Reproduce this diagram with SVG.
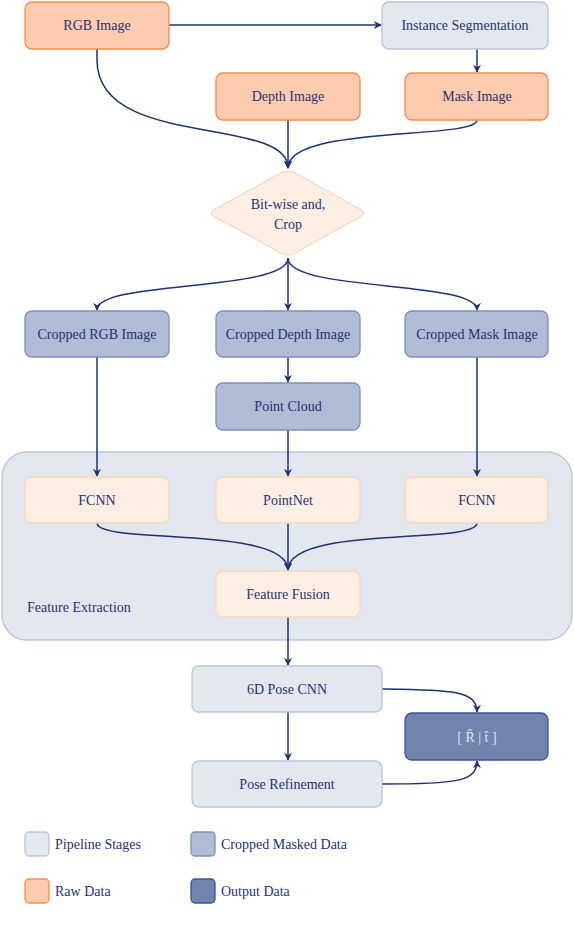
<svg xmlns="http://www.w3.org/2000/svg" width="574" height="928" viewBox="0 0 574 928">
<style>
.raw{fill:#fdcbad;stroke:#f58c4e;stroke-width:1.3}
.stage{fill:#e3e8f0;stroke:#b9c5da;stroke-width:1.3}
.crop{fill:#b0bcd5;stroke:#7b90b9;stroke-width:1.3}
.out{fill:#7184ae;stroke:#3d5593;stroke-width:1.3}
.lite{fill:#fdeee3;stroke:#fbd5bb;stroke-width:1.3}
.cont{fill:#e3e8f0;stroke:#b9c5da;stroke-width:1.3}
.edge{fill:none;stroke:#1b3273;stroke-width:1.5}
</style>
<defs>
<marker id="arr" viewBox="0 0 10 10" refX="9" refY="5" markerWidth="8" markerHeight="8" orient="auto" markerUnits="userSpaceOnUse">
<path d="M0,0 L10,5 L0,10 L3,5 Z" fill="#1b3273"/>
</marker>
</defs>
<rect width="574" height="928" fill="#ffffff"/>
<g id="feature-extraction">
<rect class="cont" x="2" y="452" width="570" height="188" rx="25"/>
<text x="27" y="612" font-family="Liberation Serif" font-size="14" fill="#1f3373">Feature Extraction</text>
</g>
<g id="connectors">
<path class="edge" d="M169,25 L381,25" marker-end="url(#arr)"/>
<path class="edge" d="M477,49 L477,72" marker-end="url(#arr)"/>
<path class="edge" d="M97,49 L97,60 C97,150 288,115 288,168" marker-end="url(#arr)"/>
<path class="edge" d="M288,120 L288,168" marker-end="url(#arr)"/>
<path class="edge" d="M477,120 C477,140 288,125 288,168" marker-end="url(#arr)"/>
<path class="edge" d="M288,258 C288,292 97,280 97,310" marker-end="url(#arr)"/>
<path class="edge" d="M288,258 L288,310" marker-end="url(#arr)"/>
<path class="edge" d="M288,258 C288,292 477,280 477,310" marker-end="url(#arr)"/>
<path class="edge" d="M288,357 L288,382" marker-end="url(#arr)"/>
<path class="edge" d="M97,357 L97,476" marker-end="url(#arr)"/>
<path class="edge" d="M288,430 L288,476" marker-end="url(#arr)"/>
<path class="edge" d="M477,357 L477,476" marker-end="url(#arr)"/>
<path class="edge" d="M97,523 C97,545 288,525 288,570" marker-end="url(#arr)"/>
<path class="edge" d="M288,523 L288,570" marker-end="url(#arr)"/>
<path class="edge" d="M477,523 C477,545 288,525 288,570" marker-end="url(#arr)"/>
<path class="edge" d="M288,617 L288,665" marker-end="url(#arr)"/>
<path class="edge" d="M288,712 L288,760" marker-end="url(#arr)"/>
<path class="edge" d="M382,689 C450,690 477,690 477,712" marker-end="url(#arr)"/>
<path class="edge" d="M382,784 C455,784 477,782 477,761" marker-end="url(#arr)"/>
</g>
<g id="rgb-image"><rect class="raw" x="25" y="2" width="144" height="47" rx="7"/><text x="97" y="30" font-family="Liberation Serif" font-size="14" fill="#1f3373" text-anchor="middle">RGB Image</text></g>
<g id="instance-segmentation"><rect class="stage" x="382" y="2" width="166" height="47" rx="7"/><text x="465" y="30" font-family="Liberation Serif" font-size="14" fill="#1f3373" text-anchor="middle">Instance Segmentation</text></g>
<g id="depth-image"><rect class="raw" x="216" y="73" width="144" height="47" rx="7"/><text x="288" y="101" font-family="Liberation Serif" font-size="14" fill="#1f3373" text-anchor="middle">Depth Image</text></g>
<g id="mask-image"><rect class="raw" x="405" y="73" width="143" height="47" rx="7"/><text x="477" y="101" font-family="Liberation Serif" font-size="14" fill="#1f3373" text-anchor="middle">Mask Image</text></g>
<g id="bitwise-crop">
<path class="lite" d="M281,173 Q288,169 295,173 L360,209 Q367,213 360,217 L295,253 Q288,257 281,253 L215,217 Q208,213 215,209 Z"/>
<text x="288" y="209" font-family="Liberation Serif" font-size="14" fill="#1f3373" text-anchor="middle">Bit-wise and,</text>
<text x="288" y="229" font-family="Liberation Serif" font-size="14" fill="#1f3373" text-anchor="middle">Crop</text>
</g>
<g id="cropped-rgb"><rect class="crop" x="25" y="311" width="144" height="46" rx="7"/><text x="97" y="339" font-family="Liberation Serif" font-size="14" fill="#1f3373" text-anchor="middle">Cropped RGB Image</text></g>
<g id="cropped-depth"><rect class="crop" x="216" y="311" width="144" height="46" rx="7"/><text x="288" y="339" font-family="Liberation Serif" font-size="14" fill="#1f3373" text-anchor="middle">Cropped Depth Image</text></g>
<g id="cropped-mask"><rect class="crop" x="405" y="311" width="143" height="46" rx="7"/><text x="477" y="339" font-family="Liberation Serif" font-size="14" fill="#1f3373" text-anchor="middle">Cropped Mask Image</text></g>
<g id="point-cloud"><rect class="crop" x="216" y="383" width="144" height="47" rx="7"/><text x="288" y="411" font-family="Liberation Serif" font-size="14" fill="#1f3373" text-anchor="middle">Point Cloud</text></g>
<g id="fcnn-1"><rect class="lite" x="25" y="477" width="144" height="46" rx="7"/><text x="97" y="505" font-family="Liberation Serif" font-size="14" fill="#1f3373" text-anchor="middle">FCNN</text></g>
<g id="pointnet"><rect class="lite" x="216" y="477" width="144" height="46" rx="7"/><text x="288" y="505" font-family="Liberation Serif" font-size="14" fill="#1f3373" text-anchor="middle">PointNet</text></g>
<g id="fcnn-2"><rect class="lite" x="405" y="477" width="143" height="46" rx="7"/><text x="477" y="505" font-family="Liberation Serif" font-size="14" fill="#1f3373" text-anchor="middle">FCNN</text></g>
<g id="feature-fusion"><rect class="lite" x="216" y="571" width="144" height="46" rx="7"/><text x="288" y="599" font-family="Liberation Serif" font-size="14" fill="#1f3373" text-anchor="middle">Feature Fusion</text></g>
<g id="pose-cnn"><rect class="stage" x="192" y="666" width="190" height="46" rx="7"/><text x="287" y="694" font-family="Liberation Serif" font-size="14" fill="#1f3373" text-anchor="middle">6D Pose CNN</text></g>
<g id="pose-refinement"><rect class="stage" x="192" y="761" width="190" height="46" rx="7"/><text x="287" y="789" font-family="Liberation Serif" font-size="14" fill="#1f3373" text-anchor="middle">Pose Refinement</text></g>
<g id="output"><rect class="out" x="405" y="713" width="143" height="47" rx="7"/><text x="477" y="742" font-family="Liberation Serif" font-size="14" fill="#dfe5f0" text-anchor="middle">[ R&#770; | t&#770; ]</text></g>
<g id="legend">
<rect class="stage" x="25" y="832" width="24" height="24" rx="4"/><text x="55" y="849" font-family="Liberation Serif" font-size="14" fill="#1f3373">Pipeline Stages</text>
<rect class="crop" x="191" y="832" width="24" height="24" rx="4"/><text x="221" y="849" font-family="Liberation Serif" font-size="14" fill="#1f3373">Cropped Masked Data</text>
<rect class="raw" x="25" y="879" width="24" height="24" rx="4"/><text x="55" y="896" font-family="Liberation Serif" font-size="14" fill="#1f3373">Raw Data</text>
<rect class="out" x="191" y="879" width="24" height="24" rx="4"/><text x="221" y="896" font-family="Liberation Serif" font-size="14" fill="#1f3373">Output Data</text>
</g>
</svg>
